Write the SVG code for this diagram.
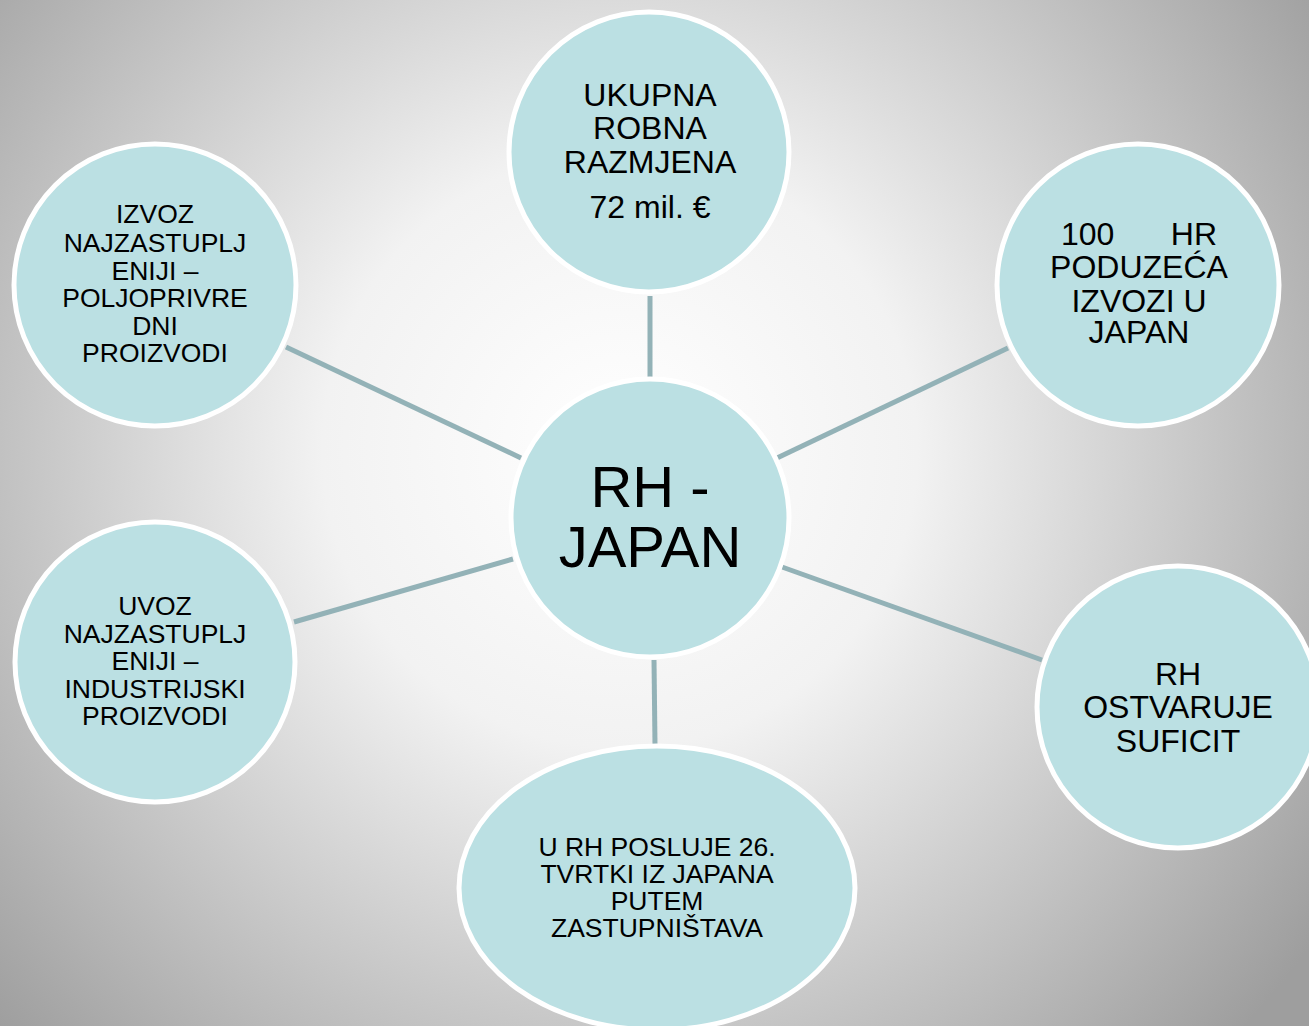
<svg xmlns="http://www.w3.org/2000/svg" width="1309" height="1026" viewBox="0 0 1309 1026">
<defs>
<radialGradient id="bg" cx="620" cy="450" r="850" gradientUnits="userSpaceOnUse">
<stop offset="0" stop-color="#ffffff"/>
<stop offset="0.35" stop-color="#f2f2f2"/>
<stop offset="1" stop-color="#9e9e9e"/>
</radialGradient>
</defs>
<style>
.node{fill:#bbe0e3;stroke:#ffffff;stroke-width:5}
.conn line{stroke:#93b2b7;stroke-width:5;stroke-linecap:butt}
text{font-family:"Liberation Sans",Arial,sans-serif;fill:#000;text-anchor:middle}
.m{font-size:32px}
.s{font-size:26.5px}
.c{font-size:58px}
</style>
<rect width="1309" height="1026" fill="url(#bg)"/>
<g class="conn" id="connectors">
<line x1="650" y1="296" x2="650" y2="378"/>
<line x1="777" y1="458" x2="1008" y2="348"/>
<line x1="286" y1="347" x2="521" y2="458"/>
<line x1="294" y1="622" x2="513" y2="559"/>
<line x1="782" y1="567" x2="1042" y2="660"/>
<line x1="654" y1="660" x2="655" y2="745"/>
</g>
<g id="center">
<circle class="node" cx="650" cy="518" r="139"/>
<text class="c" x="650" y="507">RH -</text>
<text class="c" x="650" y="567">JAPAN</text>
</g>
<g id="top">
<circle class="node" cx="649" cy="152" r="140"/>
<text class="m" x="650" y="106">UKUPNA</text>
<text class="m" x="650" y="139">ROBNA</text>
<text class="m" x="650" y="173">RAZMJENA</text>
<text class="m" x="650" y="218">72 mil. €</text>
</g>
<g id="top-right">
<circle class="node" cx="1138" cy="285" r="141"/>
<text class="m" x="1061" y="245" style="text-anchor:start">100</text>
<text class="m" x="1217" y="245" style="text-anchor:end">HR</text>
<text class="m" x="1139" y="278">PODUZEĆA</text>
<text class="m" x="1139" y="312">IZVOZI U</text>
<text class="m" x="1139" y="343">JAPAN</text>
</g>
<g id="top-left">
<circle class="node" cx="155" cy="285" r="141"/>
<text class="s" x="155" y="223">IZVOZ</text>
<text class="s" x="155" y="252">NAJZASTUPLJ</text>
<text class="s" x="155" y="280">ENIJI –</text>
<text class="s" x="155" y="307">POLJOPRIVRE</text>
<text class="s" x="155" y="335">DNI</text>
<text class="s" x="155" y="362">PROIZVODI</text>
</g>
<g id="bottom-left">
<circle class="node" cx="155" cy="662" r="140"/>
<text class="s" x="155" y="615">UVOZ</text>
<text class="s" x="155" y="643">NAJZASTUPLJ</text>
<text class="s" x="155" y="670">ENIJI –</text>
<text class="s" x="155" y="698">INDUSTRIJSKI</text>
<text class="s" x="155" y="725">PROIZVODI</text>
</g>
<g id="bottom-right">
<circle class="node" cx="1178" cy="707" r="141"/>
<text class="m" x="1178" y="685">RH</text>
<text class="m" x="1178" y="718">OSTVARUJE</text>
<text class="m" x="1178" y="752">SUFICIT</text>
</g>
<g id="bottom">
<ellipse class="node" cx="657" cy="888" rx="198" ry="142"/>
<text class="s" x="657" y="856">U RH POSLUJE 26.</text>
<text class="s" x="657" y="883">TVRTKI IZ JAPANA</text>
<text class="s" x="657" y="910">PUTEM</text>
<text class="s" x="657" y="937">ZASTUPNIŠTAVA</text>
</g>
</svg>
